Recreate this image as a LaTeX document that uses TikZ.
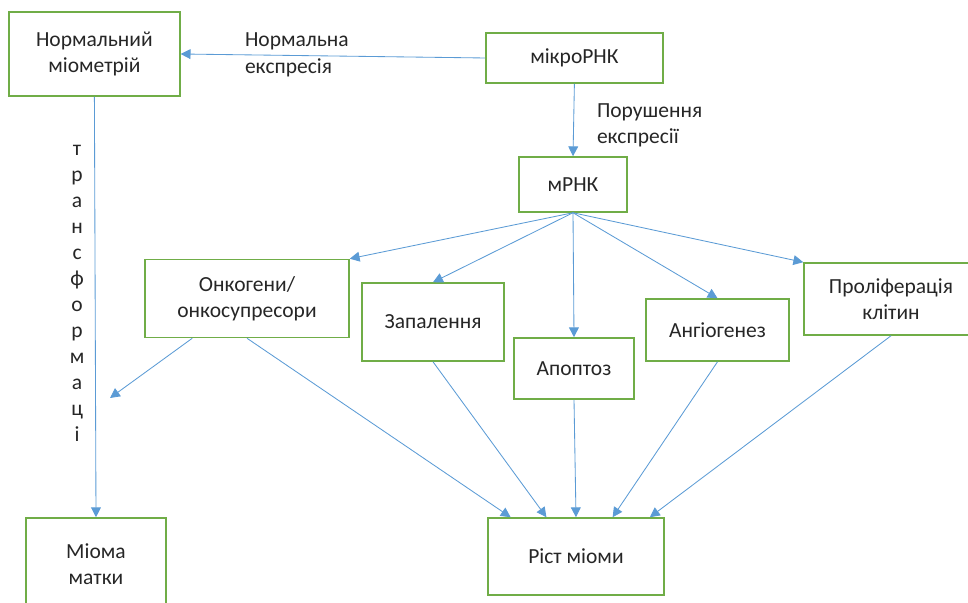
\documentclass[tikz,border=0pt]{standalone}
\usepackage{fontspec}
\setmainfont{Carlito}
\usetikzlibrary{arrows.meta,positioning}
\definecolor{boxgreen}{HTML}{70AD47}
\definecolor{arrowblue}{HTML}{5B9BD5}
\definecolor{textgray}{HTML}{262626}

\begin{document}
\begin{tikzpicture}[
    box/.style={rectangle,draw=boxgreen,line width=1.1pt,align=center,
      text=textgray,inner sep=0pt,font=\fontsize{15.3}{18.5}\selectfont},
    lbl/.style={text=textgray,align=left,inner sep=0pt,
      font=\fontsize{15.3}{18.5}\selectfont},
    arr/.style={-{Triangle[length=7pt,width=7pt]},draw=arrowblue,line width=0.6pt}]
  \useasboundingbox (0,0) rectangle (24.2,15.075);
  \clip (0,0) rectangle (24.2,15.075);
  \node[box,minimum width=4.275cm,minimum height=2.1cm] (normal)
  at (2.36,13.725) {Нормальний\\міометрій};
  \node[box,minimum width=4.425cm,minimum height=1.25cm] (mikro)
  at (14.36,13.625) {мікроРНК};
  \node[box,minimum width=2.7cm,minimum height=1.375cm] (mrnk)
  at (14.325,10.4625) {мРНК};
  \node[box,minimum width=5.1cm,minimum height=1.95cm] (onko)
  at (6.175,7.6125) {Онкогени/\\онкосупресори};
  \node[box,minimum width=3.55cm,minimum height=1.95cm] (zap)
  at (10.825,7.025) {Запалення};
  \node[box,minimum width=3cm,minimum height=1.525cm] (apop)
  at (14.35,5.8625) {Апоптоз};
  \node[box,minimum width=3.575cm,minimum height=1.55cm] (angio)
  at (17.9375,6.825) {Ангіогенез};
  \node[box,minimum width=4.35cm,minimum height=1.8cm] (prolif)
  at (22.275,7.6) {Проліферація\\клітин};
  \node[box,minimum width=3.5cm,minimum height=2.3cm] (mioma)
  at (2.4,0.975) {Міома\\матки};
  \node[box,minimum width=4.4cm,minimum height=1.925cm] (rist)
  at (14.4,1.1625) {Ріст міоми};
  \draw[arr] (mikro.west) to
  node[lbl,pos=0.79,anchor=west]{Нормальна\\експресія} (normal.east);
  \draw[arr] (mikro.south) to
  node[lbl,pos=0.58,anchor=west,xshift=0.575cm]{Порушення\\експресії} (mrnk.north);
  \draw[arr] (normal.south) to
  node[lbl,align=center,pos=0.467,xshift=-0.45cm]{т\\р\\а\\н\\с\\ф\\о\\р\\м\\а\\ц\\і} (mioma.north);
  \draw[arr] (mrnk.south) to (onko.north east);
  \draw[arr] (mrnk.south) to (zap.north);
  \draw[arr] (mrnk.south) to (apop.north);
  \draw[arr] (mrnk.south) to (angio.north);
  \draw[arr] (mrnk.south) to (prolif.north west);
  \coordinate (gap) at (2.75,5.125);
  \draw[arr] (onko.216) to (gap);
  \draw[arr] (onko.south) to (rist.149);
  \draw[arr] (zap.south) to (rist.127);
  \draw[arr] (apop.south) to (rist.north);
  \draw[arr] (angio.south) to (rist.47);
  \draw[arr] (prolif.south) to (rist.28);
\end{tikzpicture}
\end{document}
